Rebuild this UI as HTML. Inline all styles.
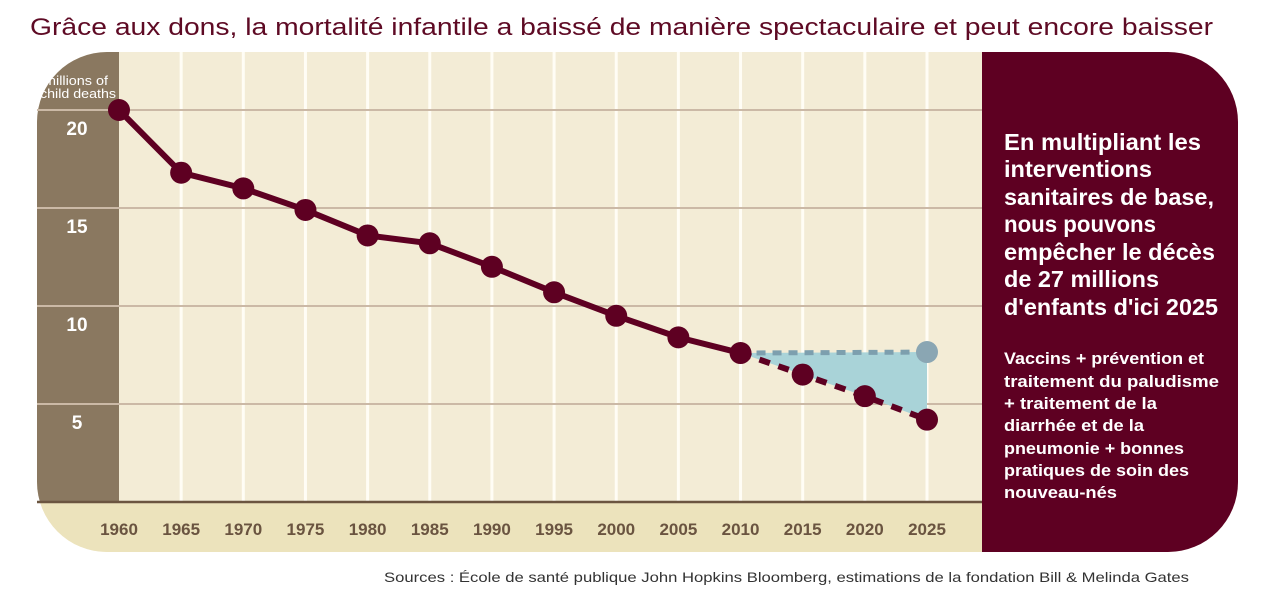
<!DOCTYPE html>
<html><head><meta charset="utf-8">
<style>
html,body{margin:0;padding:0;background:#fff;width:1279px;height:598px;overflow:hidden}
svg text{font-family:"Liberation Sans",sans-serif}
</style></head>
<body>
<svg id="chart" width="1279" height="598" viewBox="0 0 1279 598" xmlns="http://www.w3.org/2000/svg">
  <text x="30" y="35" font-size="24" fill="#5e0a24" textLength="1183" lengthAdjust="spacingAndGlyphs">Grâce aux dons, la mortalité infantile a baissé de manière spectaculaire et peut encore baisser</text>
  <defs>
    <clipPath id="panelClip"><rect x="37" y="52" width="1201" height="500" rx="70" ry="70"/></clipPath>
  </defs>
  <g clip-path="url(#panelClip)">
    <rect x="37" y="52" width="1201" height="500" fill="#f3ecd6"/>
    <rect x="37" y="52" width="82" height="450" fill="#8a7860"/>
    <rect x="37" y="502" width="945" height="50" fill="#ece3bc"/>
    <rect x="982" y="52" width="256" height="500" fill="#5e0022"/>
  </g>
  <g id="grid"></g>
  <g id="marks"></g>
  <g id="labels"></g>
  <g fill="#fff" font-weight="bold">
    <text x="1004" y="150" font-size="23" textLength="197" lengthAdjust="spacingAndGlyphs">En multipliant les</text>
    <text x="1004" y="177" font-size="23" textLength="148" lengthAdjust="spacingAndGlyphs">interventions</text>
    <text x="1004" y="205" font-size="23" textLength="210" lengthAdjust="spacingAndGlyphs">sanitaires de base,</text>
    <text x="1004" y="232" font-size="23" textLength="152" lengthAdjust="spacingAndGlyphs">nous pouvons</text>
    <text x="1004" y="260" font-size="23" textLength="211" lengthAdjust="spacingAndGlyphs">empêcher le décès</text>
    <text x="1004" y="287" font-size="23" textLength="155" lengthAdjust="spacingAndGlyphs">de 27 millions</text>
    <text x="1004" y="315" font-size="23" textLength="214" lengthAdjust="spacingAndGlyphs">d'enfants d'ici 2025</text>
    <text x="1004" y="364" font-size="16.5" textLength="200" lengthAdjust="spacingAndGlyphs">Vaccins + prévention et</text>
    <text x="1004" y="387" font-size="16.5" textLength="215" lengthAdjust="spacingAndGlyphs">traitement du paludisme</text>
    <text x="1004" y="409" font-size="16.5" textLength="153" lengthAdjust="spacingAndGlyphs">+ traitement de la</text>
    <text x="1004" y="431" font-size="16.5" textLength="140" lengthAdjust="spacingAndGlyphs">diarrhée et de la</text>
    <text x="1004" y="454" font-size="16.5" textLength="180" lengthAdjust="spacingAndGlyphs">pneumonie + bonnes</text>
    <text x="1004" y="476" font-size="16.5" textLength="185" lengthAdjust="spacingAndGlyphs">pratiques de soin des</text>
    <text x="1004" y="498" font-size="16.5" textLength="113" lengthAdjust="spacingAndGlyphs">nouveau-nés</text>
  </g>
  <text x="1189" y="582" font-size="14" fill="#333" text-anchor="end" textLength="805" lengthAdjust="spacingAndGlyphs">Sources : École de santé publique John Hopkins Bloomberg, estimations de la fondation Bill &amp; Melinda Gates</text>
</svg>
<script>
const years = [1960,1965,1970,1975,1980,1985,1990,1995,2000,2005,2010,2015,2020,2025];
const actualYears = [1960,1965,1970,1975,1980,1985,1990,1995,2000,2005,2010];
const actualValues = [20.0,16.8,16.0,14.9,13.6,13.2,12.0,10.7,9.5,8.4,7.6];
const projYears = [2010,2015,2020,2025];
const projValues = [7.6,6.5,5.4,4.2];
const baseYears = [2010,2025];
const baseValues = [7.6,7.65];
const yTicks = [5,10,15,20];

const NS = "http://www.w3.org/2000/svg";
const xS = y => 119 + (y - 1960) * (927 - 119) / 65;
const yS = v => 502 - v * 19.6;
function mk(tag, attrs, parent){const e=document.createElementNS(NS,tag);for(const k in attrs)e.setAttribute(k,attrs[k]);parent.appendChild(e);return e;}
const grid=document.getElementById('grid'), marks=document.getElementById('marks'), labels=document.getElementById('labels');

years.forEach((yr,i)=>{
  if(i>0){
    const l=mk('line',{x1:xS(yr),x2:xS(yr),y1:52,y2:502,stroke:'#fffdf5','stroke-width':3},grid);
    
    
  }
  const t=mk('text',{x:xS(yr),y:535,'text-anchor':'middle','font-size':17,'font-weight':'bold',fill:'#6a5440'},labels);
  t.textContent=yr;
  
  
});
yTicks.forEach(v=>{
  const l=mk('line',{x1:37,x2:982,y1:yS(v),y2:yS(v),stroke:'#cbb9a6','stroke-width':2},grid);
  
  
  const t=mk('text',{x:77,y:yS(v)+25,'text-anchor':'middle','font-size':19,'font-weight':'bold',fill:'#fff'},labels);
  t.textContent=v;
  
  
});
const axl=mk('line',{x1:37,x2:982,y1:502,y2:502,stroke:'#6b5540','stroke-width':2.5},grid);


const yt1=mk('text',{x:76,y:85,'text-anchor':'middle','font-size':12.5,fill:'#fff',textLength:64,lengthAdjust:'spacingAndGlyphs'},labels);
yt1.textContent='millions of';


const yt2=mk('text',{x:78,y:98,'text-anchor':'middle','font-size':12.5,fill:'#fff',textLength:76,lengthAdjust:'spacingAndGlyphs'},labels);
yt2.textContent='child deaths';



let pts=projYears.map((y,i)=>xS(y)+','+yS(projValues[i]));
pts=pts.concat(baseYears.slice().reverse().map((y,i)=>xS(y)+','+yS(baseValues[baseValues.length-1-i])));
const area=mk('polygon',{points:pts.join(' '),fill:'#a9d3d8'},marks);



const base=mk('polyline',{points:baseYears.map((y,i)=>xS(y)+','+yS(baseValues[i])).join(' '),fill:'none',stroke:'#7d9fae','stroke-width':5,'stroke-dasharray':'9 7'},marks);


const proj=mk('polyline',{points:projYears.map((y,i)=>xS(y)+','+yS(projValues[i])).join(' '),fill:'none',stroke:'#5e0022','stroke-width':6,'stroke-dasharray':'11 9'},marks);


const act=mk('polyline',{points:actualYears.map((y,i)=>xS(y)+','+yS(actualValues[i])).join(' '),fill:'none',stroke:'#5e0022','stroke-width':6},marks);



const bp=mk('circle',{cx:xS(baseYears[1]),cy:yS(baseValues[1]),r:11,fill:'#8aa6b3'},marks);


actualYears.forEach((y,i)=>{
  const c=mk('circle',{cx:xS(y),cy:yS(actualValues[i]),r:11,fill:'#5e0022'},marks);
  
  
});
projYears.slice(1).forEach((y,i)=>{
  const c=mk('circle',{cx:xS(y),cy:yS(projValues[i+1]),r:11,fill:'#5e0022'},marks);
  
  
});
</script>
</body></html>
